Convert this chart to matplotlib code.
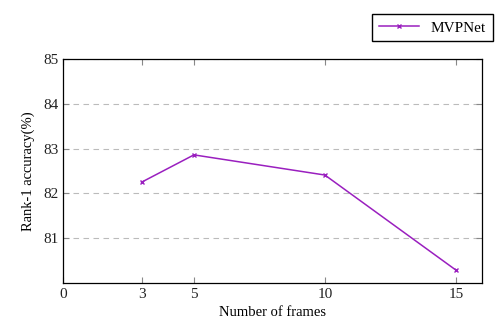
import matplotlib.pyplot as plt

frames = [3, 5, 10, 15]
accuracy = [82.25, 82.86, 82.41, 80.29]
x_ticks = [0, 3, 5, 10, 15]
y_ticks = [81, 82, 83, 84, 85]

plt.rcParams['font.family'] = ['Liberation Serif', 'DejaVu Serif']

fig = plt.figure(figsize=(4.95, 3.28), dpi=100)
ax = fig.add_axes([63 / 495, 1 - 283 / 328, (482 - 63) / 495, (283 - 59) / 328])

ax.plot(frames, accuracy, color='#9A1FBF', lw=1.1, marker='x', ms=3.5,
        mew=1.0, label='MVPNet')

ax.set_xlim(0, 16)
ax.set_ylim(80, 85)
ax.set_xticks(x_ticks)
ax.set_yticks(y_ticks)
ax.tick_params(direction='in', length=4, width=0.8, color='#888888',
               top=True, right=True, labelsize=11, labelcolor='#222222')
ax.yaxis.grid(True, ls=(0, (5, 4)), color='#bbbbbb', lw=0.8)
for s in ax.spines.values():
    s.set_linewidth(0.9)

ax.set_xlabel('Number of frames', fontsize=10.5, labelpad=4)
ax.set_ylabel('Rank-1 accuracy(%)', fontsize=10.5, labelpad=6)

ax.legend(loc='upper right', bbox_to_anchor=(493 / 495, 1 - 14 / 328),
          bbox_transform=fig.transFigure, borderaxespad=0, fontsize=11,
          fancybox=False, edgecolor='black', framealpha=1,
          handlelength=2.6, borderpad=0.45)

fig.savefig('out.png', dpi=100)
